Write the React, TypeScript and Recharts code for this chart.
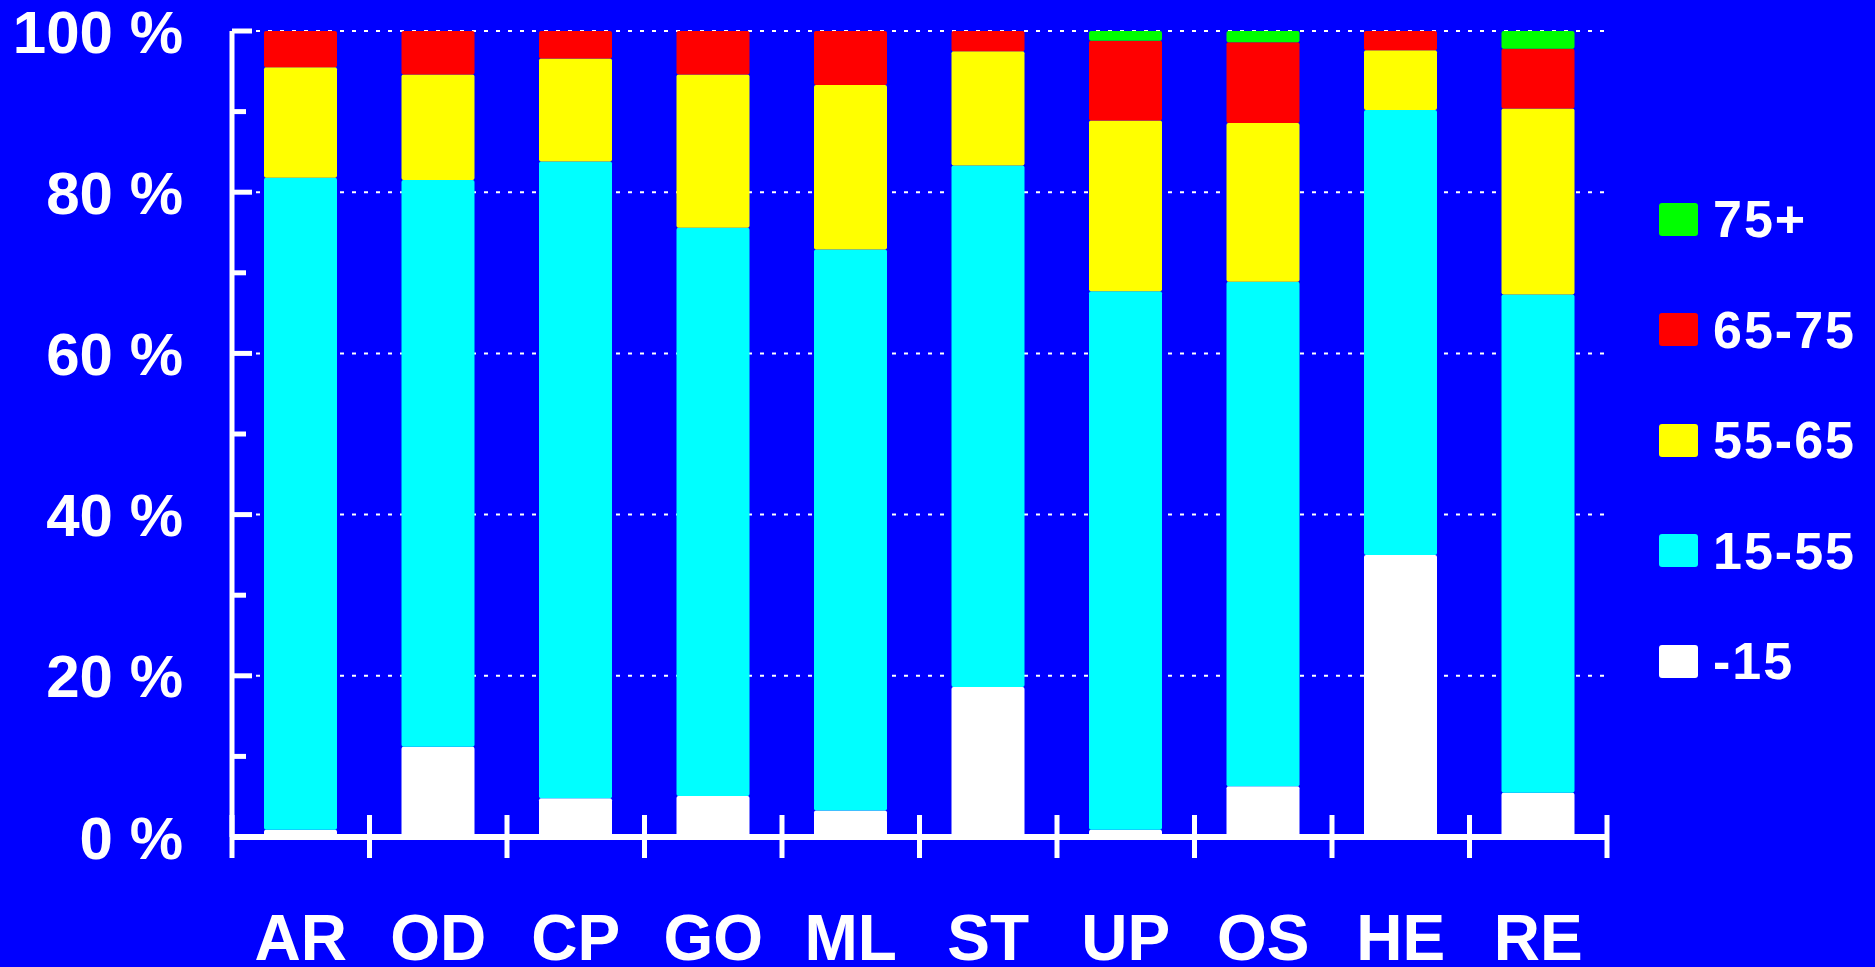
import React from "react";
import { BarChart, Bar, XAxis, YAxis, CartesianGrid } from "recharts";

// share of each age band per region, in percent
const regions = ["AR", "OD", "CP", "GO", "ML", "ST", "UP", "OS", "HE", "RE"];
const under15 = [0.9, 11.2, 4.8, 5.1, 3.3, 18.6, 0.9, 6.3, 35.0, 5.5];
const age15to55 = [80.9, 70.3, 79.0, 70.5, 69.6, 64.7, 66.8, 62.6, 55.2, 61.8];
const age55to65 = [13.7, 13.1, 12.8, 19.0, 20.4, 14.2, 21.2, 19.7, 7.4, 23.1];
const age65to75 = [4.5, 5.4, 3.4, 5.4, 6.7, 2.5, 9.9, 10.0, 2.4, 7.4];
const over75 = [0, 0, 0, 0, 0, 0, 1.2, 1.4, 0, 2.2];

const yTicks = [0, 10, 20, 30, 40, 50, 60, 70, 80, 90, 100];
const gridTicks = [20, 40, 60, 80, 100];

const series = [
  { key: "u15", name: "-15", color: "#ffffff", values: under15 },
  { key: "a15", name: "15-55", color: "#00ffff", values: age15to55 },
  { key: "a55", name: "55-65", color: "#ffff00", values: age55to65 },
  { key: "a65", name: "65-75", color: "#ff0000", values: age65to75 },
  { key: "o75", name: "75+", color: "#00ff00", values: over75 },
];

const data = regions.map((name, i) => {
  const row: any = { name };
  series.forEach((s) => {
    row[s.key] = s.values[i];
  });
  return row;
});

const FONT = '"Liberation Sans", Arial, sans-serif';

const YTick = (props: any) => {
  const { x, y, payload } = props;
  const major = payload.value % 20 === 0;
  return (
    <g>
      <line x1={x} x2={x + (major ? 20 : 14)} y1={y} y2={y} stroke="#fff" strokeWidth={5} />
      {major && (
        <text
          x={x - 49}
          y={y}
          dy="0.36em"
          textAnchor="end"
          fill="#fff"
          fontSize={60}
          fontWeight="bold"
          fontFamily={FONT}
        >
          {payload.value} %
        </text>
      )}
    </g>
  );
};

// category label plus the tick marks on the band edges
const XTick = (props: any) => {
  const { x, y, payload, index } = props;
  const half = payload.offset || 0;
  const last = index === regions.length - 1;
  return (
    <g>
      <line x1={x - half} x2={x - half} y1={y - 22} y2={y + 21} stroke="#fff" strokeWidth={5} />
      {last && (
        <line x1={x + half} x2={x + half} y1={y - 22} y2={y + 21} stroke="#fff" strokeWidth={5} />
      )}
      <text
        x={x}
        y={y + 123}
        textAnchor="middle"
        fill="#fff"
        fontSize={64}
        fontWeight="bold"
        fontFamily={FONT}
      >
        {payload.value}
      </text>
    </g>
  );
};

const AgeLegend = () => (
  <div style={{ position: "absolute", left: 1659, top: 0 }}>
    {[...series].reverse().map((s, i) => (
      <div
        key={s.key}
        style={{
          position: "absolute",
          left: 0,
          top: 219 + i * 110.5 - 30,
          height: 60,
          display: "flex",
          alignItems: "center",
          whiteSpace: "nowrap",
        }}
      >
        <div
          style={{
            width: 39,
            height: 33,
            background: s.color,
            borderRadius: 3,
            marginRight: 15,
          }}
        />
        <span
          style={{
            color: "#fff",
            fontFamily: FONT,
            fontWeight: "bold",
            fontSize: 52,
            letterSpacing: 2,
          }}
        >
          {s.name}
        </span>
      </div>
    ))}
  </div>
);

export default function App() {
  return (
    <div
      style={{
        position: "absolute",
        left: 0,
        top: 0,
        width: 1875,
        height: 967,
        background: "#0000ff",
        overflow: "hidden",
      }}
    >
      <BarChart
        width={1875}
        height={967}
        data={data}
        margin={{ top: 31, right: 268, bottom: 0, left: 0 }}
      >
        <CartesianGrid
          yAxisId="grid"
          vertical={false}
          stroke="#fff"
          strokeWidth={2}
          strokeDasharray="4 8"
        />
        <XAxis
          dataKey="name"
          height={130}
          axisLine={{ stroke: "#fff", strokeWidth: 6 }}
          tickLine={false}
          tickSize={0}
          tickMargin={0}
          interval={0}
          tick={<XTick />}
        />
        <YAxis
          width={232}
          domain={[0, 100]}
          ticks={yTicks}
          allowDataOverflow
          interval={0}
          axisLine={{ stroke: "#fff", strokeWidth: 5 }}
          tickLine={false}
          tickSize={0}
          tickMargin={0}
          tick={<YTick />}
        />
        <YAxis
          yAxisId="grid"
          hide
          domain={[0, 100]}
          ticks={gridTicks}
          allowDataOverflow
          interval={0}
        />
        {series.map((s) => (
          <Bar
            key={s.key}
            dataKey={s.key}
            name={s.name}
            stackId="age"
            fill={s.color}
            barSize={73}
            radius={2}
            isAnimationActive={false}
          />
        ))}
      </BarChart>
      <AgeLegend />
    </div>
  );
}
